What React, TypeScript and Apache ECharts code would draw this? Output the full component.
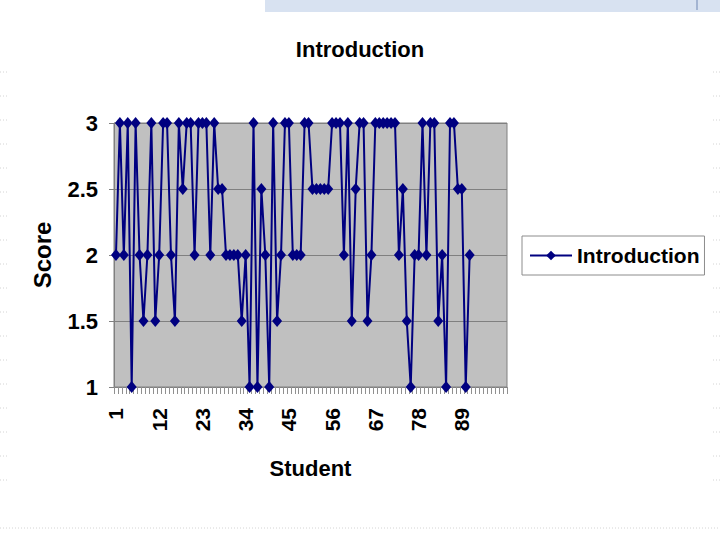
import React, { useEffect, useRef } from "react";
import * as echarts from "echarts";

// Category labels (student numbers 1..100 on the axis)
const students: string[] = [
  "1","2","3","4","5","6","7","8","9","10","11","12","13","14","15","16","17","18","19","20",
  "21","22","23","24","25","26","27","28","29","30","31","32","33","34","35","36","37","38","39","40",
  "41","42","43","44","45","46","47","48","49","50","51","52","53","54","55","56","57","58","59","60",
  "61","62","63","64","65","66","67","68","69","70","71","72","73","74","75","76","77","78","79","80",
  "81","82","83","84","85","86","87","88","89","90","91","92","93","94","95","96","97","98","99","100",
];

// Introduction scores, students 1..91
const scores: number[] = [
  2, 3, 2, 3, 1, 3, 2, 1.5, 2, 3,
  1.5, 2, 3, 3, 2, 1.5, 3, 2.5, 3, 3,
  2, 3, 3, 3, 2, 3, 2.5, 2.5, 2, 2,
  2, 2, 1.5, 2, 1, 3, 1, 2.5, 2, 1,
  3, 1.5, 2, 3, 3, 2, 2, 2, 3, 3,
  2.5, 2.5, 2.5, 2.5, 2.5, 3, 3, 3, 2, 3,
  1.5, 2.5, 3, 3, 1.5, 2, 3, 3, 3, 3,
  3, 3, 2, 2.5, 1.5, 1, 2, 2, 3, 2,
  3, 3, 1.5, 2, 1, 3, 3, 2.5, 2.5, 1,
  2,
];

const yTicks = { min: 1, max: 3, interval: 0.5 };
const seriesName = "Introduction";
const titleText = "Introduction";
const xName = "Student";
const yName = "Score";

const SANS = "'Liberation Sans', Arial, sans-serif";

export default function App() {
  const ref = useRef<HTMLDivElement>(null);

  useEffect(() => {
    if (!ref.current) return;
    const chart = echarts.init(ref.current, undefined, { renderer: "svg" });

    const sideDashes: any[] = [];
    for (let y = 72; y < 500; y += 24) {
      sideDashes.push({
        type: "line",
        shape: { x1: 0, y1: y, x2: 7, y2: y },
        style: { stroke: "#d4d4d4", lineWidth: 1, lineDash: [1, 2] },
        silent: true,
      });
      sideDashes.push({
        type: "line",
        shape: { x1: 713, y1: y, x2: 720, y2: y },
        style: { stroke: "#d4d4d4", lineWidth: 1, lineDash: [1, 2] },
        silent: true,
      });
    }

    chart.setOption({
      animation: false,
      backgroundColor: "#ffffff",
      graphic: [
        {
          type: "rect",
          shape: { x: 265, y: 0, width: 455, height: 12 },
          style: { fill: "#d8e2f1" },
          silent: true,
        },
        {
          type: "line",
          shape: { x1: 697, y1: 0, x2: 697, y2: 10 },
          style: { stroke: "#6f86b3", lineWidth: 1 },
          silent: true,
        },
        {
          type: "line",
          shape: { x1: 0, y1: 528, x2: 720, y2: 528 },
          style: { stroke: "#d4d4d4", lineWidth: 1, lineDash: [1, 2] },
          silent: true,
        },
        ...sideDashes,
      ],
      title: {
        text: titleText,
        left: "center",
        top: 33,
        textStyle: { fontFamily: SANS, fontSize: 22, fontWeight: "bold", color: "#000" },
      },
      legend: {
        data: [seriesName],
        left: 522,
        top: 236,
        padding: [9, 5, 9, 7],
        borderColor: "#8c8c8c",
        borderWidth: 1,
        backgroundColor: "#ffffff",
        itemWidth: 42,
        itemHeight: 12,
        itemGap: 4,
        textStyle: { fontFamily: SANS, fontSize: 21, fontWeight: "bold", color: "#000" },
      },
      grid: {
        left: 114,
        top: 123,
        width: 393,
        height: 264,
        show: true,
        backgroundColor: "#c0c0c0",
        borderColor: "#808080",
        borderWidth: 1,
      },
      xAxis: {
        type: "category",
        data: students,
        boundaryGap: true,
        name: xName,
        nameLocation: "middle",
        nameGap: 70,
        nameTextStyle: { fontFamily: SANS, fontSize: 22, fontWeight: "bold", color: "#000" },
        axisLine: { lineStyle: { color: "#808080" } },
        axisTick: { show: true, interval: 0, length: 7, lineStyle: { color: "#909090" } },
        axisLabel: {
          interval: (index: number) => index % 11 === 0 && index < 99,
          rotate: 90,
          margin: 21,
          fontFamily: SANS,
          fontSize: 21,
          fontWeight: "bold",
          color: "#000",
        },
        splitLine: { show: false },
      },
      yAxis: {
        type: "value",
        min: yTicks.min,
        max: yTicks.max,
        interval: yTicks.interval,
        name: yName,
        nameLocation: "middle",
        nameGap: 60,
        nameTextStyle: { fontFamily: SANS, fontSize: 24, fontWeight: "bold", color: "#000" },
        axisLine: { show: true, lineStyle: { color: "#808080" } },
        axisTick: { show: true, length: 5, lineStyle: { color: "#808080" } },
        splitLine: { show: true, lineStyle: { color: "#808080", width: 1 } },
        axisLabel: {
          margin: 16,
          fontFamily: SANS,
          fontSize: 22,
          fontWeight: "bold",
          color: "#000",
          formatter: (v: number) => String(v),
        },
      },
      series: [
        {
          type: "line",
          name: seriesName,
          data: scores,
          showSymbol: true,
          showAllSymbol: true,
          symbol: "diamond",
          symbolSize: [10, 12],
          lineStyle: { color: "#000080", width: 2 },
          itemStyle: { color: "#000080" },
        },
      ],
    });

    return () => chart.dispose();
  }, []);

  return (
    <div
      ref={ref}
      style={{ position: "fixed", left: 0, top: 0, width: 720, height: 540 }}
    />
  );
}
